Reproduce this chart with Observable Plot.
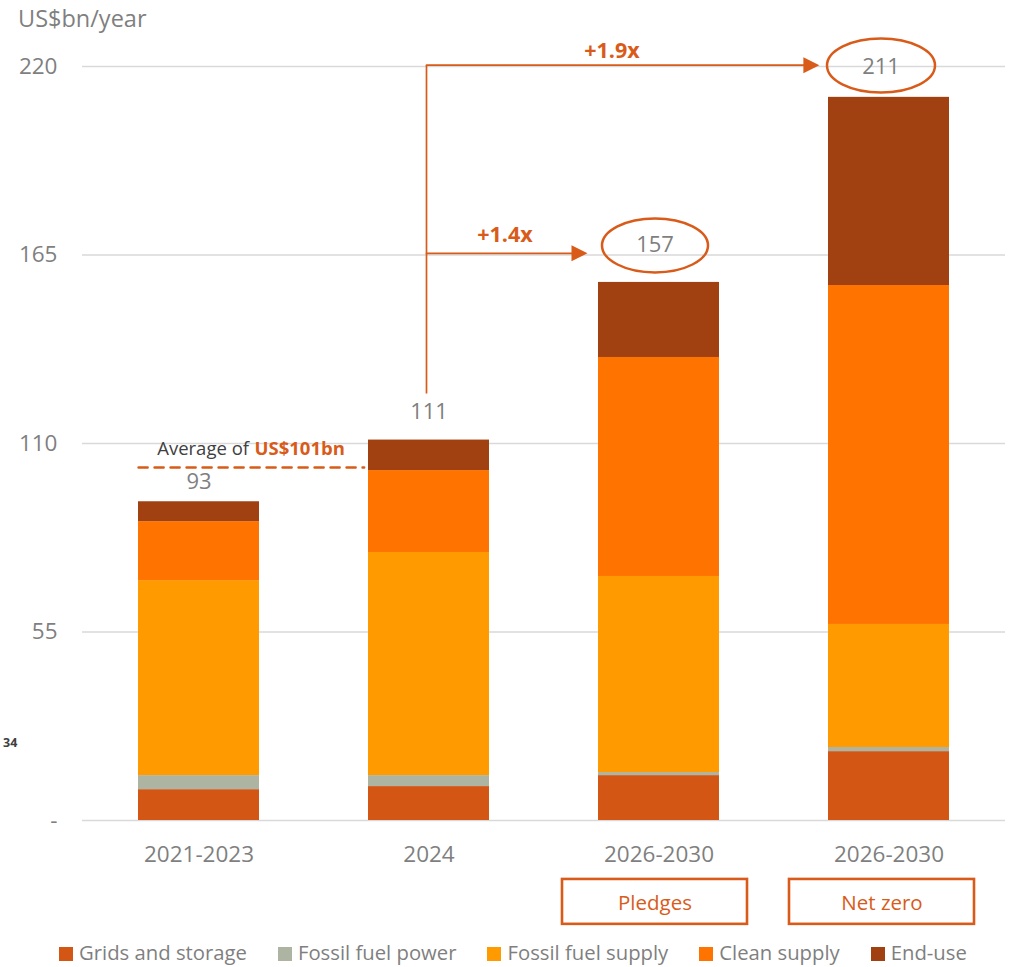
<!DOCTYPE html>
<html><head><meta charset="utf-8">
<script src="https://cdn.jsdelivr.net/npm/d3@7"></script>
<script src="https://cdn.jsdelivr.net/npm/@observablehq/plot@0.6"></script>
<style>
body{margin:0;background:#fff;font-family:"Open Sans",sans-serif}
#wrap{position:relative;width:1014px;height:967px;overflow:hidden;background:#fff}
#title{position:absolute;left:18px;top:2px;font-size:23.5px;color:#7f7f7f}
#page{position:absolute;left:3px;top:734px;font-size:12.5px;font-weight:bold;color:#404040}
#legend{position:absolute;left:59px;top:942px;height:20px;line-height:20px;display:flex;align-items:center;font-size:20.3px;color:#7f7f7f;white-space:nowrap}
#legend .it{display:flex;align-items:center;margin-right:31px}
#legend .sw{width:14px;height:14px;margin-right:6px;margin-top:3px}
</style></head>
<body><div id="wrap"><div id="title">US$bn/year</div><div id="page">34</div><div id="legend"></div></div>
<script>
// ---- data ----
const categories = ["2021-2023", "2024", "2026-2030 Pledges", "2026-2030 Net zero"];
const tickLabels = ["2021-2023", "2024", "2026-2030", "2026-2030"];
const seriesNames = ["Grids and storage", "Fossil fuel power", "Fossil fuel supply", "Clean supply", "End-use"];
const seriesColors = ["#D35614", "#ADB4A2", "#FF9B00", "#FF7400", "#A14010"];
const grids = [9.0, 9.9, 13.1, 20.1];
const fossilPower = [4.1, 3.2, 0.9, 1.2];
const fossilSupply = [56.9, 65.1, 57.2, 35.9];
const cleanSupply = [17.2, 23.9, 63.9, 98.9];
const endUse = [5.8, 8.9, 21.9, 54.9];
const totals = [93, 111, 157, 211];
const yTicks = [0, 55, 110, 165, 220];
const averageLabel = "US$101bn";
const averageLevel = 103;          // dashed line height as drawn
const growthLabels = ["+1.4x", "+1.9x"];
const growthTargets = ["2026-2030 Pledges", "2026-2030 Net zero"];
const growthLevels = [165.5, 220.4];
const scenarioLabels = ["Pledges", "Net zero"];

const ORANGE = "#D95B1A";
const GRAY = "#7f7f7f";

const seriesValues = [grids, fossilPower, fossilSupply, cleanSupply, endUse];
const rows = categories.flatMap((c, i) => seriesNames.map((s, j) => ({category: c, series: s, value: seriesValues[j][i]})));

const ellipse = (rx, ry) => ({draw(ctx) {
  const k = 0.5523;
  ctx.moveTo(rx, 0);
  ctx.bezierCurveTo(rx, ry * k, rx * k, ry, 0, ry);
  ctx.bezierCurveTo(-rx * k, ry, -rx, ry * k, -rx, 0);
  ctx.bezierCurveTo(-rx, -ry * k, -rx * k, -ry, 0, -ry);
  ctx.bezierCurveTo(rx * k, -ry, rx, -ry * k, rx, 0);
  ctx.closePath();
}});
const headRight = {draw(ctx) { ctx.moveTo(8, 0); ctx.lineTo(-8, -8); ctx.lineTo(-8, 8); ctx.closePath(); }};

const totalsData = categories.map((c, i) => ({category: c, total: totals[i]}));
const tf = d => tickLabels[categories.indexOf(d)];

const chart = Plot.plot({
  width: 1014, height: 935,
  marginTop: 66, marginBottom: 115, marginLeft: 82, marginRight: 9,
  style: {fontFamily: "'Open Sans', sans-serif", background: "transparent", overflow: "visible"},
  x: {domain: categories, paddingInner: 0.476, paddingOuter: 0.238, axis: null},
  y: {domain: [0, 220], axis: null},
  color: {domain: seriesNames, range: seriesColors},
  marks: [
    Plot.ruleY(yTicks, {stroke: "#d9d9d9", strokeWidth: 1.6}),
    Plot.axisY({ticks: yTicks, tickFormat: d => d === 0 ? "-" : d, tickSize: 0, tickPadding: 25, fontSize: 22.5, color: GRAY, label: null}),
    Plot.axisX({tickFormat: tf, tickSize: 0, tickPadding: 26, fontSize: 22.5, color: GRAY, label: null}),
    Plot.barY(rows, {x: "category", y: "value", fill: "series", order: seriesNames}),
    // value labels
    Plot.text(totalsData.slice(0, 1), {x: "category", y: "total", text: d => String(d.total), dy: -19.5, fontSize: 22, fill: GRAY}),
    Plot.text(totalsData.slice(1, 2), {x: "category", y: "total", text: d => String(d.total), dy: -28.5, fontSize: 22, fill: GRAY}),
    Plot.text(totalsData.slice(2, 3), {x: "category", y: d => growthLevels[0] + 2.3, text: d => String(d.total), dx: -4, fontSize: 22, fill: GRAY}),
    Plot.text(totalsData.slice(3, 4), {x: "category", y: d => growthLevels[1] - 0.6, text: d => String(d.total), dx: -8, fontSize: 22, fill: GRAY}),
    Plot.dot(totalsData.slice(2, 3), {x: "category", y: d => growthLevels[0] + 2.3, dx: -4, symbol: ellipse(53, 27), fill: "none", stroke: ORANGE, strokeWidth: 2.5}),
    Plot.dot(totalsData.slice(3, 4), {x: "category", y: d => growthLevels[1] - 0.1, dx: -8, symbol: ellipse(54, 27), fill: "none", stroke: ORANGE, strokeWidth: 2.5}),
    // average dashed line
    Plot.arrow([{a: categories[0], b: categories[1]}], {x1: "a", x2: "b", y1: () => averageLevel, y2: () => averageLevel, dx: -60.4, insetEnd: 4.5, headLength: 0, stroke: ORANGE, strokeWidth: 2.6, strokeDasharray: "9,7"}),
    Plot.text([categories[0]], {x: d => d, y: () => averageLevel + 5.3, text: () => "Average of", dx: 50, textAnchor: "end", fontSize: 18.5, fill: "#404040"}),
    Plot.text([categories[0]], {x: d => d, y: () => averageLevel + 5.3, text: () => averageLabel, dx: 55.5, textAnchor: "start", fontSize: 18.5, fontWeight: "bold", fill: ORANGE}),
    // growth arrows
    Plot.link([categories[1]], {x1: d => d, x2: d => d, y1: () => 124.6, y2: () => growthLevels[1], dx: -2.5, stroke: ORANGE, strokeWidth: 1.7}),
    Plot.arrow(growthTargets.map((t, i) => ({t, lvl: growthLevels[i], i})).slice(0, 1), {x1: () => categories[1], x2: "t", y1: "lvl", y2: "lvl", dx: -2.5, insetEnd: 77.5, headLength: 0, stroke: ORANGE, strokeWidth: 1.7}),
    Plot.arrow(growthTargets.map((t, i) => ({t, lvl: growthLevels[i], i})).slice(1, 2), {x1: () => categories[1], x2: "t", y1: "lvl", y2: "lvl", dx: -2.5, insetEnd: 75.5, headLength: 0, stroke: ORANGE, strokeWidth: 1.7}),
    Plot.dot([growthTargets[0]], {x: d => d, y: () => growthLevels[0], dx: -79.5, symbol: headRight, fill: ORANGE, stroke: "none"}),
    Plot.dot([growthTargets[1]], {x: d => d, y: () => growthLevels[1], dx: -77.6, symbol: headRight, fill: ORANGE, stroke: "none"}),
    Plot.text([growthLabels[0]], {x: () => categories[1], y: () => growthLevels[0] + 5.2, text: d => d, dx: 76, fontSize: 21.5, fontWeight: "bold", fill: ORANGE}),
    Plot.text([growthLabels[1]], {x: () => categories[1], y: () => growthLevels[1] + 4, text: d => d, dx: 183, fontSize: 21.5, fontWeight: "bold", fill: ORANGE}),
    // scenario boxes
    Plot.barY([growthTargets[0]], {x: d => d, y1: () => -17.2, y2: () => -30.3, dx: -4, insetLeft: -32, insetRight: -32, fill: "none", stroke: ORANGE, strokeWidth: 2.6}),
    Plot.barY([growthTargets[1]], {x: d => d, y1: () => -17.2, y2: () => -30.3, dx: -7, insetLeft: -32, insetRight: -32, fill: "none", stroke: ORANGE, strokeWidth: 2.6}),
    Plot.text([0], {x: () => growthTargets[0], y: () => -24.1, text: () => scenarioLabels[0], dx: -4, fontSize: 20.5, fill: ORANGE}),
    Plot.text([1], {x: () => growthTargets[1], y: () => -24.1, text: () => scenarioLabels[1], dx: -7, fontSize: 20.5, fill: ORANGE})
  ]
});
chart.style.position = "absolute";
chart.style.left = "0px";
chart.style.top = "0px";
document.getElementById("wrap").prepend(chart);

const legend = document.getElementById("legend");
seriesNames.forEach((s, i) => {
  const it = document.createElement("div");
  it.className = "it";
  it.innerHTML = `<span class="sw" style="background:${seriesColors[i]}"></span><span>${s}</span>`;
  legend.appendChild(it);
});
</script>
</body></html>
